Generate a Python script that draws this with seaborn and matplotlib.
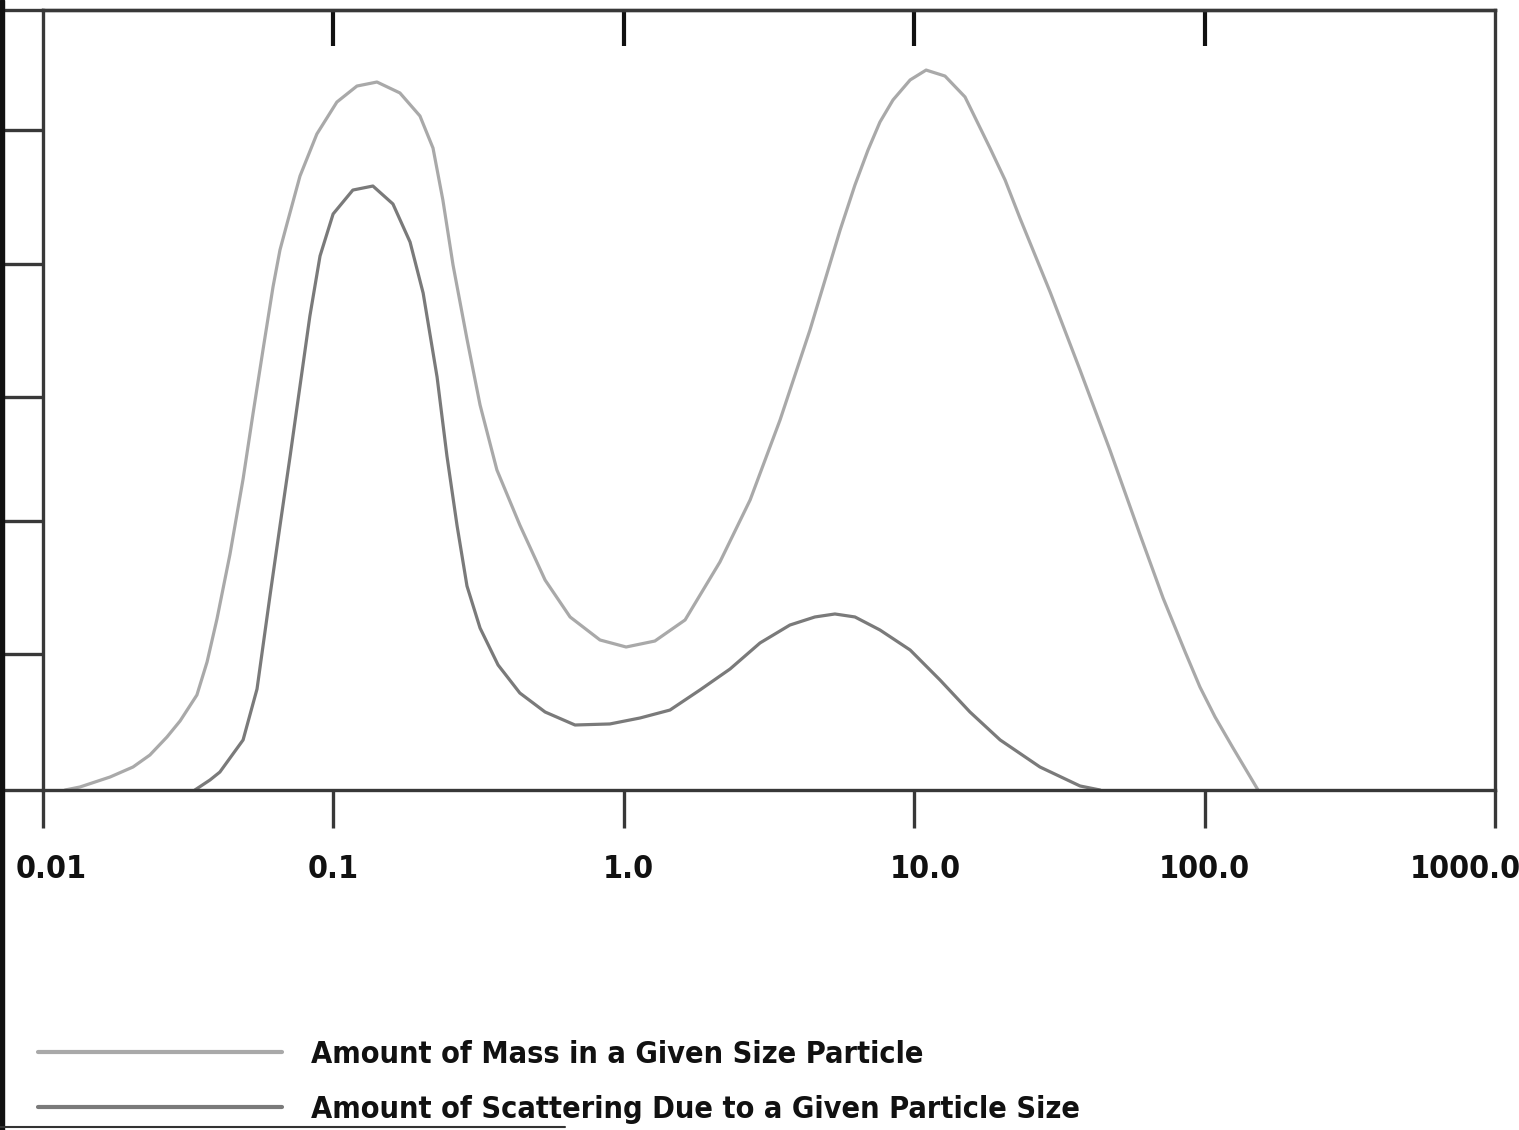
import numpy as np
import pandas as pd
import matplotlib
matplotlib.use("Agg")
import matplotlib.pyplot as plt
import seaborn as sns
from matplotlib.transforms import ScaledTranslation
from matplotlib.patches import Rectangle
from matplotlib.lines import Line2D

# ---- data: log10 particle size (micrometres) and relative amount ----
mass_logsize = [-1.924, -1.873, -1.769, -1.690, -1.632, -1.573, -1.528, -1.470, -1.435, -1.401,
                -1.356, -1.311, -1.277, -1.242, -1.208, -1.184, -1.160, -1.115, -1.057, -0.988,
                -0.919, -0.850, -0.771, -0.702, -0.657, -0.623, -0.588, -0.540, -0.495,
                -0.437, -0.358, -0.271, -0.185, -0.082, 0.008, 0.107, 0.211, 0.331,
                0.435, 0.538, 0.641, 0.745, 0.796, 0.841, 0.882, 0.927, 0.986, 1.041,
                1.106, 1.175, 1.261, 1.313, 1.364, 1.468, 1.571, 1.674, 1.778, 1.857,
                1.933, 1.984, 2.036, 2.098, 2.184]
mass_amount = [0.0, 0.023, 0.10, 0.177, 0.269, 0.408, 0.531, 0.731, 0.985, 1.315,
               1.815, 2.392, 2.892, 3.392, 3.869, 4.154, 4.354, 4.723, 5.046, 5.292,
               5.415, 5.446, 5.362, 5.185, 4.938, 4.538, 4.038, 3.469, 2.962,
               2.462, 2.038, 1.615, 1.331, 1.154, 1.100, 1.146, 1.308, 1.754,
               2.231, 2.846, 3.538, 4.308, 4.654, 4.923, 5.138, 5.308, 5.462, 5.538,
               5.492, 5.331, 4.938, 4.692, 4.400, 3.831, 3.231, 2.615, 1.962, 1.477,
               1.062, 0.792, 0.562, 0.323, 0.0]

scat_logsize = [-1.477, -1.425, -1.391, -1.311, -1.263, -1.218, -1.184, -1.149, -1.115,
                -1.081, -1.046, -1.001, -0.933, -0.864, -0.795, -0.736, -0.691, -0.643,
                -0.609, -0.574, -0.540, -0.495, -0.433, -0.358, -0.271, -0.168, -0.048,
                0.056, 0.159, 0.262, 0.366, 0.469, 0.572, 0.658, 0.727, 0.796, 0.882,
                0.986, 1.089, 1.192, 1.296, 1.433, 1.571, 1.640]
scat_amount = [0.0, 0.077, 0.138, 0.385, 0.777, 1.500, 2.031, 2.569, 3.108,
               3.646, 4.108, 4.431, 4.615, 4.646, 4.508, 4.215, 3.823, 3.177,
               2.569, 2.031, 1.569, 1.246, 0.962, 0.746, 0.600, 0.500, 0.508,
               0.554, 0.615, 0.769, 0.931, 1.131, 1.269, 1.331, 1.354, 1.331, 1.231,
               1.077, 0.846, 0.600, 0.385, 0.177, 0.031, 0.0]

series_labels = ["Amount of Mass in a Given Size Particle",
                 "Amount of Scattering Due to a Given Particle Size"]
x_ticks = [0.01, 0.1, 1.0, 10.0, 100.0, 1000.0]
x_tick_labels = ["0.01", "0.1", "1.0", "10.0", "100.0", "1000.0"]
y_ticks = [0, 1.05, 2.07, 3.02, 4.05, 5.08, 6]

df = pd.concat([
    pd.DataFrame({"size": np.power(10.0, mass_logsize), "amount": mass_amount,
                  "series": series_labels[0]}),
    pd.DataFrame({"size": np.power(10.0, scat_logsize), "amount": scat_amount,
                  "series": series_labels[1]}),
])

sns.set_style("white")
FONT = ["DejaVu Sans"]
plt.rcParams["font.family"] = FONT

W, H = 1519, 1130
fig = plt.figure(figsize=(W / 100, H / 100), dpi=100)
fig.patch.set_facecolor("white")
ax = fig.add_axes([43 / W, 1 - 790 / H, (1495 - 43) / W, (790 - 10) / H])

palette = {series_labels[0]: "#a9a9a9", series_labels[1]: "#7a7a7a"}
sns.lineplot(data=df, x="size", y="amount", hue="series", palette=palette,
             linewidth=2.3, sort=False, estimator=None, ax=ax, legend=True)
for ln in ax.get_lines():
    ln.set_solid_joinstyle("round")

ax.set_xscale("log")
ax.set_xlim(0.01, 1000)
ax.set_ylim(0, 6)
ax.set_xlabel("")
ax.set_ylabel("")
ax.minorticks_off()

spine_c = "#383838"
for s in ax.spines.values():
    s.set_visible(True)
    s.set_color(spine_c)
    s.set_linewidth(2.4)

ax.set_yticks(y_ticks)
ax.set_yticklabels([])
ax.tick_params(axis="y", direction="out", length=28, width=2.4, color=spine_c, left=True)

ax.set_xticks(x_ticks)
ax.set_xticklabels([])
ax.tick_params(axis="x", which="major", direction="out", length=27, width=2.4,
               color=spine_c, bottom=True)
ax.tick_params(axis="x", which="minor", bottom=False, top=False)

# tick labels, nudged like the original (first/last kept inside the figure)
label_dx = [8, 0, 5, 11, 0, -30]
for xv, txt, dx in zip(x_ticks, x_tick_labels, label_dx):
    ax.text(xv, -0.1013, txt,
            transform=ax.get_xaxis_transform() + ScaledTranslation(dx / 100, 0, fig.dpi_scale_trans),
            ha="center", va="center", fontsize=23, fontweight="bold",
            fontstretch="condensed", color="#111111", clip_on=False)

sec = ax.secondary_xaxis("top")
sec.set_xticks(x_ticks[1:-1])
sec.set_xticklabels([])
sec.tick_params(axis="x", which="major", direction="in", length=26, width=3.0, color="#111111")
sec.tick_params(axis="x", which="minor", top=False)
sec.spines["top"].set_color(spine_c)
sec.spines["top"].set_linewidth(2.4)

# legend
handles, labs = ax.get_legend_handles_labels()
leg = ax.legend(handles, labs, loc="upper left", bbox_to_anchor=(38 / W, 1 - 1040 / H),
                bbox_transform=fig.transFigure, frameon=False, borderpad=0, borderaxespad=0,
                handlelength=8.0, handletextpad=0.95, labelspacing=0.85,
                prop={"family": FONT, "weight": "bold", "size": 22, "stretch": "condensed"})
for t in leg.get_texts():
    t.set_color("#111111")
for ln in leg.get_lines():
    ln.set_linewidth(3)

# scan-edge artefacts of the original figure
fig.patches.append(Rectangle((0, 0), 4 / W, 1, transform=fig.transFigure, color="#111111", zorder=0))
fig.add_artist(Line2D([0, 565 / W], [1 - 1127 / H, 1 - 1127 / H], transform=fig.transFigure,
                      color="#333333", linewidth=1.5))

fig.savefig("out.png", dpi=100, facecolor="white")
